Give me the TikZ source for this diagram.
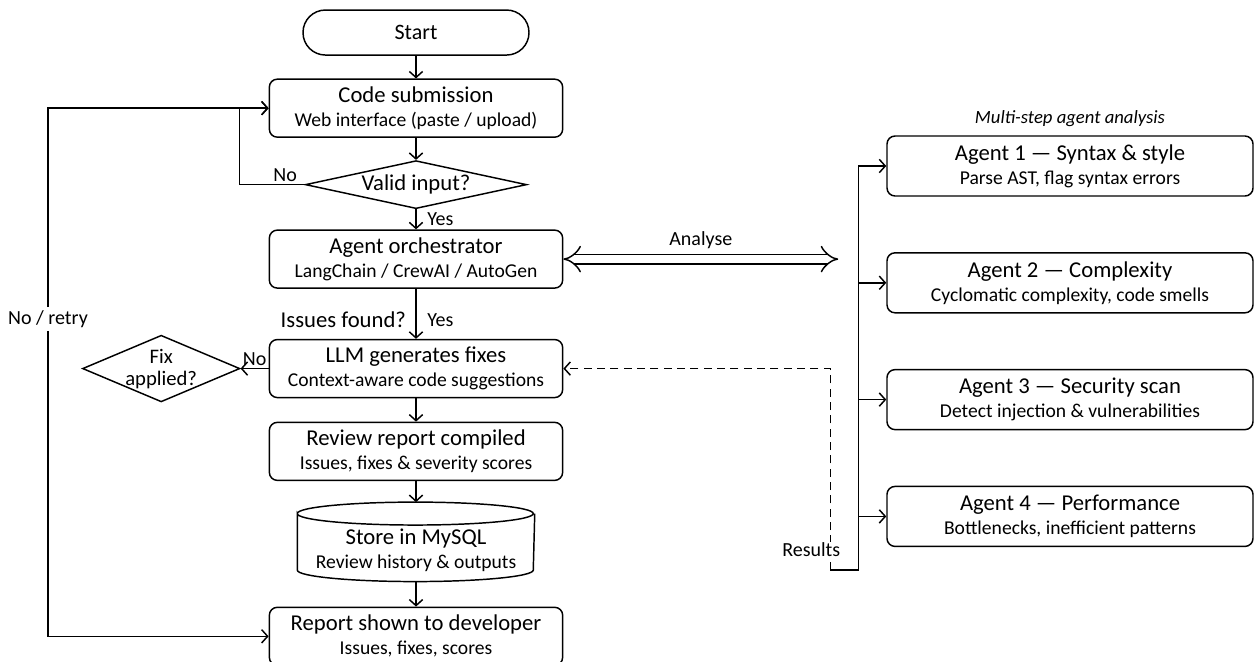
\documentclass[tikz,border=0pt]{standalone}
\usepackage{fontspec}
\setmainfont{Carlito}
\usetikzlibrary{positioning}
\usetikzlibrary{arrows.meta}
\usetikzlibrary{shapes.geometric}
\newcommand{\subline}[1]{{\fontsize{14.7}{16}\selectfont #1}}

\begin{document}
\begin{tikzpicture}[
    line width=1.1pt,
    font=\fontsize{17}{18}\selectfont,
    node distance=17pt and 21pt,
    box/.style={draw, rounded corners=6pt, align=center, minimum width=220pt, minimum height=43.5pt, inner sep=1pt},
    agentbox/.style={box, minimum width=274.5pt, minimum height=45pt},
    decision/.style={draw, diamond, align=center, inner sep=0pt},
    lbl/.style={inner sep=2pt, font=\fontsize{15}{16}\selectfont},
    arrow/.style={-{Straight Barb[length=4.5pt, width=10pt]}},
    dblarrow/.style={{Implies}-{Implies}, double, double distance=6pt}
]
    \useasboundingbox (0,0) rectangle (940.5pt,-495.75pt);

    % Main column
    \node[box, minimum width=169.5pt, minimum height=33.75pt, rounded corners=16.8pt, font=\fontsize{16.5}{18}\selectfont] (start) at (312pt,-24.4pt) {Start};
    \node[box, below=of start] (code) {Code submission\\\subline{Web interface (paste / upload)}};
    \node[decision, minimum width=166pt, minimum height=36pt, aspect=4.6, below=16.5pt of code] (valid) {Valid input?};
    \node[box, below=15pt of valid] (orch) {Agent orchestrator\\\subline{LangChain / CrewAI / AutoGen}};
    \node[box, below=37.5pt of orch] (llm) {LLM generates fixes\\\subline{Context-aware code suggestions}};
    \node[box, below=17.5pt of llm] (review) {Review report compiled\\\subline{Issues, fixes \& severity scores}};
    \node[minimum width=177pt, minimum height=58.5pt, below=15.75pt of review] (db) {};
    \node[align=center, inner sep=0pt] (dbtext) at ([yshift=-6pt]db.center) {Store in MySQL\\\subline{Review history \& outputs}};
    \node[box, below=18.75pt of db] (report) {Report shown to developer\\\subline{Issues, fixes, scores}};

    % Database drum
    \draw ([yshift=-8.6pt]db.north west) arc[start angle=180, end angle=-180, x radius=88.5pt, y radius=8.6pt]
        -- ([yshift=8.6pt]db.south west) arc[start angle=180, end angle=360, x radius=88.5pt, y radius=8.6pt]
        -- ([yshift=-8.6pt]db.north east);

    % Side decision and retry label
    \node[decision, minimum width=118pt, minimum height=50pt, aspect=2.3, inner sep=-2pt, left=21pt of llm,
          font=\fontsize{15.5}{16.5}\selectfont] (fix) {Fix\\applied?};
    \node[lbl] (retry) at (36pt,-239.25pt) {No / retry};

    % Agents
    \node[agentbox] (ag1) at (802.5pt,-124.5pt) {Agent 1 --- Syntax \& style\\\subline{Parse AST, flag syntax errors}};
    \node[agentbox, below=41.5pt of ag1] (ag2) {Agent 2 --- Complexity\\\subline{Cyclomatic complexity, code smells}};
    \node[agentbox, below=41.5pt of ag2] (ag3) {Agent 3 --- Security scan\\\subline{Detect injection \& vulnerabilities}};
    \node[agentbox, below=41.5pt of ag3] (ag4) {Agent 4 --- Performance\\\subline{Bottlenecks, inefficient patterns}};
    \node[lbl, above=4pt of ag1, font=\fontsize{14}{15}\selectfont\itshape] (steps) {Multi-step agent analysis};

    \coordinate[left=21pt of ag1.west] (bustop);
    \coordinate[below=303pt of bustop] (busend);
    \coordinate[left=21pt of busend] (res);
    \coordinate (anaend) at ([xshift=-15pt]bustop |- orch.east);

    % Flow arrows
    \draw[arrow] (start) -- (code);
    \draw[arrow] (code) -- (valid);
    \draw[arrow] (valid) -- node[lbl, right=6pt]{Yes} (orch);
    \draw[arrow] (valid.west) -- node[lbl, above, pos=0.3]{No} ++(-48.75pt,0) |- (code.west);
    \draw[arrow] (orch) -- node[lbl, left=5pt, pos=0.62, font=\fontsize{17}{18}\selectfont]{Issues found?} node[lbl, right=6pt, pos=0.62]{Yes} (llm);
    \draw[arrow] (llm) -- node[lbl, above]{No} (fix);
    \draw[arrow] (llm) -- (review);
    \draw[arrow] (review) -- (db);
    \draw[arrow] (db) -- (report);
    \draw[arrow] (retry.north) |- (code.west);
    \draw[arrow] (retry.south) |- (report.west);

    % Agent fan-out and results
    \draw[dblarrow] (orch.east) -- node[lbl, above=5pt]{Analyse} (anaend);
    \draw (bustop) -- (busend) -- (res);
    \foreach \i in {1,...,4}
        \draw[arrow] (ag\i.west -| bustop) -- (ag\i.west);
    \draw[arrow, dash pattern=on 6pt off 4pt] (res) |- (llm.east);
    \node[lbl, fill=white, inner sep=1pt] (reslbl) at ([xshift=-14.25pt, yshift=15pt]res) {Results};
\end{tikzpicture}
\end{document}
